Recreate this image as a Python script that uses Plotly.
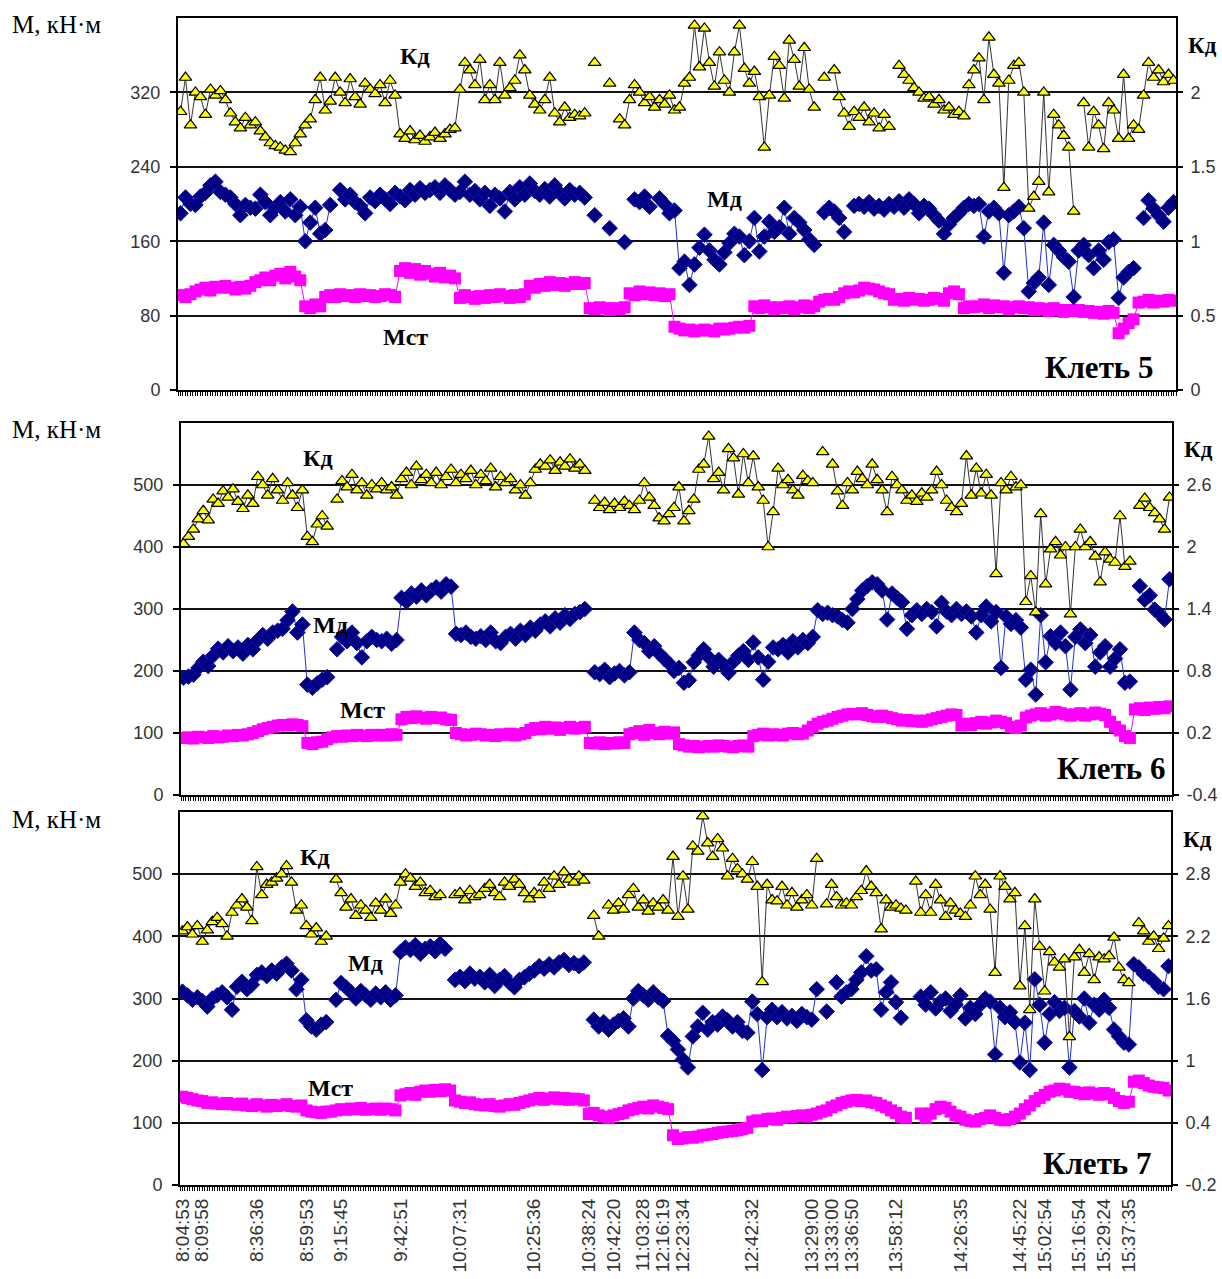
import plotly.graph_objects as go

W, H = 1222, 1279
N = 200
IDX = list(range(N))

# time labels along bottom axis and the measurement index they sit at
TIME_LABELS = ["8:04:53", "8:09:58", "8:36:36", "8:59:53", "9:15:45", "9:42:51", "10:07:31",
               "10:25:36", "10:38:24", "10:42:20", "11:03:28", "12:16:19", "12:23:34", "12:42:32",
               "13:29:00", "13:33:00", "13:36:50", "13:58:12", "14:26:35", "14:45:22", "15:02:54",
               "15:16:54", "15:29:24", "15:37:35"]
TIME_LABEL_IDX = [0, 4, 15, 25, 32, 44, 56, 71, 82, 87, 93, 97, 101, 115, 127, 131, 135, 144,
                  157, 169, 174, 181, 186, 191]

# ---------------- Клеть 5 ----------------
KD5 = [1.87, 2.1, 1.78, 2.0, 1.97, 1.85, 2.02, 1.98, 2.01, 1.95,
       1.86, 1.8, 1.76, 1.83, 1.78, 1.8, 1.74, 1.7, 1.66, 1.64,
       1.63, 1.61, 1.6, 1.66, 1.72, 1.78, 1.82, 1.95, 2.1, 1.88,
       1.94, 2.1, 2.0, 1.93, 2.09, 1.97, 1.92, 2.06, 2.02, 1.99,
       2.05, 1.93, 2.08, 1.98, 1.72, 1.69, 1.74, 1.68, 1.71, 1.67,
       1.7, 1.73, 1.69, 1.72, 1.75, 1.76, 2.02, 2.2, 2.15, 2.05,
       2.22, 1.95, 2.05, 1.95, 2.2, 1.98, 2.03, 2.08, 2.25, 2.15,
       1.98, 1.92, 1.88, 1.95, 2.1, 1.86, 1.8, 1.9, 1.83, 1.85,
       1.84, 1.86, None, 2.2, None, None, 2.06, None, 1.82, 1.78,
       1.95, 2.05, 2.0, 1.93, 1.97, 1.9, 1.95, 1.92, 1.98, 1.88,
       1.9, 2.06, 2.1, 2.45, 2.17, 2.43, 2.2, 2.04, 2.27, 2.08,
       2.0, 2.27, 2.45, 2.16, 2.06, 2.14, 1.97, 1.63, 1.98, 2.24,
       2.18, 1.96, 2.35, 2.22, 2.04, 2.3, 2.02, 1.9, None, 2.1,
       None, 2.15, 1.97, 1.86, 1.77, 1.87, 1.83, 1.9, 1.8, 1.86,
       1.76, 1.85, 1.77, None, 2.18, 2.12, 2.08, 2.03, 2.0, 1.96,
       1.97, 1.92, 1.95, 1.88, 1.9, 1.85, 1.87, 1.84, 2.05, 2.15,
       2.23, 1.95, 2.37, 2.12, 2.06, 1.36, 2.08, 2.18, 2.2, 2.0,
       1.22, 1.3, 1.4, 2.0, 1.33, 1.85, 1.78, 1.71, 1.63, 1.2,
       None, 1.93, 1.63, 1.87, 1.78, 1.62, 1.93, 1.88, 1.69, 2.12,
       1.69, 1.78, 1.75, 1.98, 2.2, 2.1, 2.15, 2.07, 2.12, 2.08]
MD5 = [190, 207, 200, 199, 208, 212, 220, 224, 213, 210,
       207, 200, 188, 199, 196, 195, 210, 202, 188, 196,
       202, 192, 205, 188, 197, 160, 180, 196, 168, 172,
       199, None, 215, 205, 210, 202, 198, 190, 207, 203,
       210, 205, 200, 212, 208, 204, 215, 210, 217, 212,
       215, 218, 212, 220, 215, 210, 213, 224, 210, 214,
       205, 212, 198, 210, 206, 192, 213, 205, 218, 210,
       222, 214, 210, 216, 208, 220, 212, 206, 215, 210,
       212, 207, None, 188, None, None, 174, None, None, 159,
       None, 205, 202, 208, 197, None, 206, 200, 190, 193,
       131, 138, 113, 135, 153, 167, 150, 140, 135, 148,
       158, 168, 165, 145, 160, 185, 149, 165, 181, 170,
       175, 196, 168, 185, 180, 172, 162, 156, None, 191,
       196, 192, 185, 170, None, 198, 200, 197, 202, 195,
       198, 194, 200, 197, 203, 196, 205, 200, 190, 198,
       195, 188, 182, 168, 178, 185, 190, 196, 200, 198,
       200, 165, 192, 196, 190, 126, 188, 192, 197, 174,
       106, 115, 121, 180, 113, 156, 150, 143, 138, 100,
       150, 156, 145, 131, 150, 140, 159, 162, 99, 121,
       127, 131, None, 185, 204, 195, 188, 181, 196, 202]
MST5 = [102, 100, 103, 106, 108, 110, 107, 111, 110, 112,
        110, 108, 111, 109, 112, 116, 118, 121, 118, 123,
        125, 120, 127, 122, 118, 90, 88, 92, 90, 100,
        102, 100, 103, 101, 102, 100, 103, 101, 102, 100,
        101, 103, 102, 100, 128, 131, 126, 130, 124, 128,
        125, 122, 126, 121, 123, 120, 99, 102, 100, 98,
        101, 99, 102, 100, 103, 101, 99, 102, 100, 103,
        112, 110, 114, 112, 116, 113, 115, 112, 114, 116,
        114, 115, 88, 87, 89, 88, 86, 88, 87, 89,
        104, 102, 106, 103, 105, 102, 104, 101, 103, 68,
        66, 64, 65, 63, 64, 65, 64, 63, 66, 65,
        66, 67, 68, 67, 69, 90, 88, 91, 89, 87,
        89, 88, 90, 87, 89, 91, 88, 90, 95, 97,
        98, 97, 100, 104, 106, 105, 107, 110, 109, 108,
        106, 104, 103, 97, 98, 96, 99, 97, 98, 96,
        97, 99, 98, 96, 104, 106, 103, 88, 90, 89,
        90, 92, 88, 91, 89, 90, 87, 89, 90, 88,
        89, 86, 88, 87, 85, 88, 86, 84, 86, 85,
        86, 84, 85, 83, 84, 82, 85, 83, 61, 66,
        72, 76, 94, 95, 97, 94, 96, 95, 97, 96]

# ---------------- Клеть 6 ----------------
KD6 = [2.03, 2.1, 2.17, 2.27, 2.35, 2.26, 2.46, 2.42, 2.54, 2.48,
       2.56, 2.44, 2.37, 2.5, 2.42, 2.68, 2.6, 2.5, 2.66, 2.55,
       2.45, 2.62, 2.5, 2.38, 2.55, 2.1, 2.05, 2.22, 2.3, 2.2,
       None, 2.46, 2.64, 2.58, 2.7, 2.55, 2.62, 2.5, 2.6, 2.56,
       2.62, 2.55, 2.58, 2.5, 2.66, 2.72, 2.6, 2.78, 2.65, 2.7,
       2.62, 2.72, 2.6, 2.68, 2.75, 2.62, 2.7, 2.66, 2.74, 2.6,
       2.7, 2.64, 2.76, 2.58, 2.68, 2.62, 2.66, 2.55, 2.6, 2.5,
       2.62, 2.75, 2.8, 2.78, 2.84, 2.74, 2.82, 2.78, 2.85, 2.76,
       2.8, 2.74, None, 2.45, 2.38, 2.43, 2.36, 2.42, 2.38, 2.44,
       2.4, 2.36, 2.45, 2.62, 2.48, 2.4, 2.28, 2.25, 2.32, 2.38,
       2.58, 2.25, 2.35, 2.46, 2.75, 2.8, 3.07, 2.66, 2.72, 2.55,
       2.95, 2.86, 2.51, 2.9, 2.62, 2.88, 2.58, 2.45, 2.0, 2.34,
       2.76, 2.6, 2.65, 2.55, 2.5, 2.69, 2.64, 2.62, None, 2.92,
       None, 2.8, 2.54, 2.4, 2.62, 2.55, 2.73, 2.66, 2.6, 2.8,
       2.65, 2.55, 2.34, 2.68, 2.6, 2.55, 2.45, 2.5, 2.44, 2.52,
       2.48, 2.55, 2.73, 2.6, 2.45, 2.38, 2.34, 2.42, 2.88, 2.5,
       2.76, 2.52, 2.7, 2.5, 1.74, 2.62, 2.55, 2.68, 2.58, 2.6,
       1.47, 1.72, 1.37, 2.32, 1.64, 1.98, 2.05, 1.92, 2.0, 1.35,
       2.0, 2.17, 2.0, 2.05, 1.91, 1.66, 1.95, 1.88, 1.85, 2.3,
       1.81, 1.86, None, 2.4, 2.47, 2.38, 2.33, 2.27, 2.17, 2.48]
MD6 = [189, 191, 194, 205, 215, 208, 225, 236, 230, 240,
       232, 238, 228, 242, 235, 250, 258, 252, 262, 265,
       268, 282, 296, 262, 275, 178, 173, 180, 186, 190,
       None, 235, 255, 248, 262, 245, 222, 248, 255, 250,
       248, 252, 244, 250, 318, 312, 325, 320, 330, 322,
       330, 335, 328, 340, 336, 260, 258, 262, 255, 252,
       256, 250, 262, 248, 245, 255, 260, 252, 265, 258,
       270, 265, 275, 280, 272, 285, 278, 290, 284, 292,
       295, 300, None, 198, 195, 202, 190, 196, 200, 193,
       198, 262, 250, 245, 232, 240, 228, 220, 212, 200,
       205, 181, 185, 214, 225, 235, 222, 207, 218, 210,
       197, 215, 225, 232, 218, 246, 222, 186, 215, 238,
       235, 242, 230, 248, 238, 250, 245, 255, 298, 292,
       294, 290, 288, 282, 278, 300, 316, 330, 337, 343,
       340, 330, 283, 325, 318, 311, 268, 290, 298, 292,
       300, 295, 272, 310, 296, 290, 300, 292, 296, 288,
       262, 290, 304, 280, 295, 205, 288, 276, 282, 270,
       186, 202, 162, 290, 214, 256, 245, 262, 240, 170,
       255, 267, 245, 258, 207, 230, 240, 207, 220, 235,
       181, 183, None, 337, 315, 322, 299, 292, 283, 348]
MST6 = [92, 93, 91, 94, 93, 92, 95, 93, 94, 96,
        95, 97, 96, 98, 100, 103, 106, 108, 110, 112,
        113, 112, 114, 113, 111, 84, 82, 85, 86, 90,
        93, 95, 94, 96, 95, 97, 96, 95, 97, 96,
        97, 96, 98, 97, 122, 126, 124, 127, 125, 123,
        126, 124, 125, 122, 121, 100, 98, 96, 97, 99,
        98, 96, 97, 95, 98, 97, 99, 96, 98, 100,
        105, 108, 106, 110, 107, 109, 105, 108, 110, 107,
        108, 110, 84, 83, 85, 82, 84, 83, 85, 84,
        98, 100, 103, 97, 105, 100, 98, 102, 99, 101,
        82, 80, 78, 79, 77, 78, 79, 78, 80, 79,
        78, 77, 79, 80, 78, 95, 97, 99, 96, 98,
        97, 96, 99, 100, 98, 99, 104, 110, 115, 118,
        120, 123, 126, 128, 130, 131, 130, 132, 129, 127,
        126, 128, 126, 124, 122, 120, 121, 119, 120, 118,
        120, 122, 124, 126, 128, 130, 129, 112, 115, 113,
        116, 118, 115, 117, 120, 118, 116, 110, 108, 112,
        125, 128, 130, 132, 128, 130, 134, 132, 130, 128,
        130, 132, 128, 130, 133, 131, 129, 118, 110, 104,
        95, 92, 138, 140, 137, 141, 139, 142, 140, 143]

# ---------------- Клеть 7 ----------------
KD7 = [2.25, 2.29, 2.22, 2.3, 2.15, 2.26, 2.34, 2.38, 2.32, 2.2,
       2.43, 2.5, 2.56, 2.48, 2.35, 2.87, 2.6, 2.7, 2.72, 2.76,
       2.8, 2.88, 2.72, 2.45, 2.5, 2.3, 2.22, 2.28, 2.15, 2.2,
       None, 2.75, 2.62, 2.48, 2.56, 2.4, 2.5, 2.45, 2.38, 2.52,
       2.45, 2.56, 2.42, 2.5, 2.72, 2.8, 2.76, 2.68, 2.72, 2.62,
       2.64, 2.58, 2.6, None, None, 2.6, 2.62, 2.55, 2.64, 2.58,
       2.6, 2.66, 2.7, 2.62, 2.58, 2.72, 2.68, 2.75, 2.7, 2.62,
       2.56, 2.62, 2.6, 2.72, 2.66, 2.78, 2.7, 2.82, 2.75, 2.72,
       2.78, 2.74, None, 2.4, 2.2, None, 2.5, 2.45, 2.52, 2.46,
       2.6, 2.66, 2.48, 2.55, 2.44, 2.52, 2.48, 2.55, 2.45, 2.97,
       2.39, 2.78, 2.46, 3.07, 3.02, 3.36, 3.1, 2.97, 3.14, 3.05,
       2.78, 2.95, 2.85, 2.8, 2.75, 2.92, 2.68, 1.76, 2.7, 2.55,
       2.54, 2.68, 2.5, 2.62, 2.48, 2.55, 2.6, 2.5, 2.95, None,
       2.51, 2.7, 2.58, 2.5, 2.52, 2.5, 2.58, 2.64, 2.83, 2.68,
       2.62, 2.27, 2.55, 2.48, 2.5, 2.47, 2.45, None, 2.73, 2.43,
       2.6, 2.43, 2.7, 2.55, 2.39, 2.52, 2.45, 2.42, 2.39, 2.5,
       2.78, 2.6, 2.7, 2.46, 1.85, 2.78, 2.68, 2.56, 2.62, 1.72,
       2.3, 1.49, 2.56, 2.1, 1.67, 2.05, 1.95, 1.9, 1.98, 1.23,
       2.0, 2.07, 1.85, 2.03, 1.78, 2.0, 1.98, 2.01, 2.19, 1.9,
       1.78, 1.75, None, 2.33, 2.25, 2.15, 2.2, 2.08, 2.18, 2.3]
MD7 = [311, 305, 298, 302, 296, 287, 300, 305, 310, 302,
       282, 319, 327, 315, 322, 338, 342, 336, 345, 340,
       350, 356, 345, 315, 330, 265, 255, 250, 258, 262,
       None, 298, 325, 318, 310, 300, 312, 305, 298, 308,
       302, 310, 298, 305, 375, 382, 378, 386, 372, 380,
       384, 376, 388, 380, None, 330, 335, 328, 340, 332,
       335, 326, 338, 320, 330, 336, 325, 318, 330, 334,
       340, 345, 352, 348, 355, 350, 358, 362, 354, 357,
       352, 358, None, 266, 255, 262, 250, 258, 264, 268,
       255, 300, 312, 305, 298, 310, 302, 296, 240, 232,
       218, 202, 189, 239, 255, 277, 250, 262, 258, 271,
       265, 255, 262, 248, 245, 295, 275, 185, 270, 282,
       270, 278, 268, 272, 264, 275, 270, 266, 315, None,
       279, None, 326, 303, 310, 315, 330, 342, 368, 345,
       347, 282, 310, 326, 294, 269, None, None, None, 303,
       290, 310, 284, 295, 300, 280, 290, 305, 268, 285,
       275, 290, 300, 295, 210, 285, 270, 278, 262, 197,
       261, 185, 331, 290, 229, 275, 294, 280, 285, 189,
       280, 271, 300, 261, 290, 282, 298, 285, 250, 239,
       229, 226, 355, 350, 340, 335, 328, 319, 315, 352]
MST7 = [142, 140, 138, 136, 135, 132, 133, 131, 130, 132,
        130, 129, 131, 128, 127, 130, 128, 126, 129, 127,
        128, 130, 127, 126, 128, 120, 118, 117, 116, 118,
        118, 120, 122, 121, 123, 122, 124, 121, 122, 123,
        121, 123, 122, 120, 144, 146, 148, 145, 150, 152,
        150, 153, 151, 154, 152, 136, 134, 132, 133, 130,
        129, 128, 130, 127, 126, 128, 130, 129, 132, 134,
        136, 138, 140, 137, 139, 141, 138, 140, 137, 139,
        138, 136, 114, 116, 112, 110, 108, 112, 114, 116,
        120, 122, 124, 126, 123, 128, 126, 124, 122, 80,
        74, 75, 77, 76, 78, 80, 81, 82, 84, 85,
        86, 87, 88, 90, 92, 102, 104, 103, 106, 107,
        105, 108, 110, 109, 111, 112, 110, 113, 115, 118,
        120, 125, 128, 132, 134, 136, 137, 135, 136, 133,
        132, 128, 125, 120, 116, 110, 108, None, None, 115,
        108, 115, 122, 126, 124, 118, 112, 110, 105, 103,
        102, 106, 108, 112, 108, 105, 104, 106, 110, 115,
        122, 128, 135, 140, 145, 150, 152, 155, 154, 150,
        150, 148, 146, 149, 147, 145, 148, 146, 140, 135,
        132, 134, 166, 168, 164, 160, 158, 157, 156, 152]

for arr in (KD5, MD5, MST5, KD6, MD6, MST6, KD7, MD7, MST7):
    assert len(arr) == N, len(arr)

PANELS = [
    dict(name="Клеть 5", kd=KD5, md=MD5, mst=MST5, top=18, bottom=390, left=178, right=1176,
         lrange=[0, 400], lticks=[0, 80, 160, 240, 320],
         rrange=[0, 2.5], rticks=[0, 0.5, 1, 1.5, 2], rtext=["0", "0.5", "1", "1.5", "2"],
         lab_kd=(415, 56), lab_md=(724, 199), lab_mst=(405, 337), lab_name=(1099, 368)),
    dict(name="Клеть 6", kd=KD6, md=MD6, mst=MST6, top=423, bottom=795, left=181, right=1172,
         lrange=[0, 600], lticks=[0, 100, 200, 300, 400, 500],
         rrange=[-0.4, 3.2], rticks=[-0.4, 0.2, 0.8, 1.4, 2, 2.6],
         rtext=["-0.4", "0.2", "0.8", "1.4", "2", "2.6"],
         lab_kd=(318, 458), lab_md=(330, 625), lab_mst=(362, 710), lab_name=(1111, 768)),
    dict(name="Клеть 7", kd=KD7, md=MD7, mst=MST7, top=812, bottom=1185, left=180, right=1171,
         lrange=[0, 600], lticks=[0, 100, 200, 300, 400, 500],
         rrange=[-0.2, 3.4], rticks=[-0.2, 0.4, 1, 1.6, 2.2, 2.8],
         rtext=["-0.2", "0.4", "1", "1.6", "2.2", "2.8"],
         lab_kd=(315, 857), lab_md=(365, 963), lab_mst=(330, 1088), lab_name=(1097, 1163)),
]


def fx(px):
    return px / W


def fy(py):
    return 1 - py / H


TICKFONT = dict(family="Liberation Sans, Arial, sans-serif", size=18, color="#333333")
XTICKFONT = dict(family="Liberation Sans, Arial, sans-serif", size=19, color="#333333")
SERIF = "Liberation Serif, Times New Roman, serif"

fig = go.Figure()
layout = dict(width=W, height=H, margin=dict(l=0, r=0, t=0, b=0), autosize=False,
              template="none", paper_bgcolor="white", plot_bgcolor="white",
              showlegend=False, annotations=[])

for k, p in enumerate(PANELS):
    xs = "" if k == 0 else str(k + 1)
    yl = 2 * k + 1
    yr = 2 * k + 2
    yls = "" if yl == 1 else str(yl)
    yrs = str(yr)

    fig.add_trace(go.Scatter(x=IDX, y=p["mst"], xaxis="x" + xs, yaxis="y" + yls,
                             mode="lines+markers", name="Мст",
                             line=dict(color="#FF00FF", width=1),
                             marker=dict(symbol="square", size=12, color="#FF00FF",
                                         line=dict(width=0))))
    fig.add_trace(go.Scatter(x=IDX, y=p["md"], xaxis="x" + xs, yaxis="y" + yls,
                             mode="lines+markers", name="Мд",
                             line=dict(color="#2030D0", width=1),
                             marker=dict(symbol="diamond", size=12, color="#000080",
                                         line=dict(width=1, color="#1010B0"))))
    fig.add_trace(go.Scatter(x=IDX, y=p["kd"], xaxis="x" + xs, yaxis="y" + yrs,
                             mode="lines+markers", name="Кд",
                             line=dict(color="#333333", width=1),
                             marker=dict(symbol="triangle-up", size=11, color="#FFFF00",
                                         line=dict(width=1.2, color="#000000"))))

    last = (k == len(PANELS) - 1)
    layout["xaxis" + xs] = dict(
        domain=[fx(p["left"]), fx(p["right"])], anchor="y" + yls,
        range=[-0.5, N - 0.5], showgrid=False, zeroline=False,
        showline=True, linecolor="#000000", linewidth=2, mirror=True,
        ticks="outside", ticklen=4, tickcolor="#000000", tickwidth=1,
        tickvals=TIME_LABEL_IDX, ticktext=TIME_LABELS, showticklabels=last,
        tickangle=-90, tickfont=XTICKFONT,
        minor=dict(ticks="outside", ticklen=4, tickcolor="#000000", tickwidth=1,
                   tick0=0, dtick=0.5),
    )
    layout["yaxis" + yls] = dict(
        domain=[fy(p["bottom"]), fy(p["top"])], anchor="x" + xs,
        range=p["lrange"], tickvals=p["lticks"], showgrid=True,
        gridcolor="#111111", gridwidth=2, zeroline=False,
        showline=True, linecolor="#000000", linewidth=2,
        ticks="outside", ticklen=6, tickcolor="#000000", tickwidth=2,
        tickfont=TICKFONT, ticklabelstandoff=6,
    )
    layout["yaxis" + yrs] = dict(
        overlaying="y" + yls, side="right", anchor="x" + xs,
        range=p["rrange"], tickvals=p["rticks"], ticktext=p["rtext"],
        showgrid=False, zeroline=False,
        showline=True, linecolor="#000000", linewidth=2,
        ticks="outside", ticklen=5, tickcolor="#000000", tickwidth=2,
        tickfont=TICKFONT, ticklabelstandoff=4,
    )

    ann = layout["annotations"]
    ann.append(dict(text="M, кН·м", x=fx(10), y=fy(p["top"] + 7), xref="paper", yref="paper",
                    xanchor="left", yanchor="middle", showarrow=False,
                    font=dict(family=SERIF, size=25, color="#000000")))
    ann.append(dict(text="<b>Кд</b>", x=fx(p["right"] + 26), y=fy(p["top"] + 27),
                    xref="paper", yref="paper", xanchor="center", yanchor="middle",
                    showarrow=False, font=dict(family=SERIF, size=23, color="#000000")))
    for key, txt in (("lab_kd", "Кд"), ("lab_md", "Мд"), ("lab_mst", "Мст")):
        cx, cy = p[key]
        ann.append(dict(text="<b>" + txt + "</b>", x=fx(cx), y=fy(cy), xref="paper",
                        yref="paper", xanchor="center", yanchor="middle", showarrow=False,
                        font=dict(family=SERIF, size=24, color="#000000")))
    cx, cy = p["lab_name"]
    ann.append(dict(text="<b>" + p["name"] + "</b>", x=fx(cx), y=fy(cy), xref="paper",
                    yref="paper", xanchor="center", yanchor="middle", showarrow=False,
                    font=dict(family=SERIF, size=31, color="#000000")))

fig.update_layout(**layout)
fig.write_html("out.html", include_plotlyjs=True, config={"displayModeBar": False})
